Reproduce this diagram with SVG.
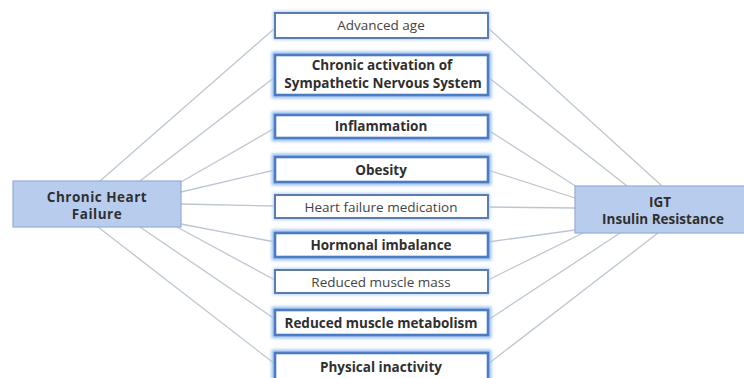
<svg xmlns="http://www.w3.org/2000/svg" width="744" height="378" viewBox="0 0 744 378">
<defs>
<filter id="glow" x="-10%" y="-40%" width="120%" height="180%">
<feGaussianBlur stdDeviation="1.6"/>
</filter>
<style>
.conn line{stroke:#bcc6d2;stroke-width:1.3;fill:none}
.side{fill:#b8cdee;stroke:#93add8;stroke-width:1.2}
.halo{fill:none;stroke:#9fc3f0;stroke-width:7;filter:url(#glow)}
.halo2{fill:none;stroke:#b9d1f0;stroke-width:4;filter:url(#glow)}
.bbox{fill:#ffffff;stroke:#4b7bc2;stroke-width:2.6}
.nbox{fill:#ffffff;stroke:#5a7db0;stroke-width:2}
text{font-family:"Open Sans","Liberation Sans",sans-serif;fill:#2f2f2f;text-anchor:middle}
.b{font-weight:bold;font-size:13.5px}
.n{font-size:13.5px;fill:#444}
.s{font-weight:bold;font-size:13.5px}
.sl{font-weight:bold;font-size:13.5px;letter-spacing:0.5px}
</style>
</defs>
<rect width="744" height="378" fill="#ffffff"/>
<g class="conn">
<line x1="100" y1="181" x2="275" y2="28"/>
<line x1="140" y1="181" x2="275" y2="77"/>
<line x1="181" y1="182" x2="275" y2="128"/>
<line x1="181" y1="192" x2="275" y2="170"/>
<line x1="181" y1="204" x2="275" y2="206"/>
<line x1="181" y1="224" x2="275" y2="242"/>
<line x1="177" y1="227" x2="275" y2="280"/>
<line x1="140" y1="227" x2="275" y2="319"/>
<line x1="98" y1="227" x2="275" y2="364"/>
<line x1="488" y1="28" x2="662" y2="186"/>
<line x1="488" y1="77" x2="627" y2="186"/>
<line x1="488" y1="130" x2="577" y2="187"/>
<line x1="488" y1="170" x2="575" y2="198"/>
<line x1="488" y1="207" x2="575" y2="208"/>
<line x1="488" y1="242" x2="575" y2="230"/>
<line x1="488" y1="280" x2="583" y2="233"/>
<line x1="488" y1="320" x2="620" y2="233"/>
<line x1="488" y1="364" x2="658" y2="233"/>
</g>
<g id="chf">
<rect class="side" x="13" y="181" width="168" height="46"/>
<text class="sl" x="97" y="202">Chronic Heart</text>
<text class="sl" x="97" y="219">Failure</text>
</g>
<g id="igt">
<rect class="side" x="575" y="186" width="175" height="47"/>
<text class="s" x="660" y="207">IGT</text>
<text class="s" x="663" y="224">Insulin Resistance</text>
</g>
<g id="age">
<rect class="halo2" x="275" y="13" width="213" height="25"/>
<rect class="nbox" x="275" y="13" width="213" height="25"/>
<text class="n" x="381" y="30">Advanced age</text>
</g>
<g id="sns">
<rect class="halo" x="275" y="55" width="213" height="40"/>
<rect class="bbox" x="275" y="55" width="213" height="40"/>
<text class="b" x="382" y="70">Chronic activation of</text>
<text class="b" x="383" y="88">Sympathetic Nervous System</text>
</g>
<g id="inflammation">
<rect class="halo" x="275" y="115" width="213" height="23"/>
<rect class="bbox" x="275" y="115" width="213" height="23"/>
<text class="b" x="381" y="131">Inflammation</text>
</g>
<g id="obesity">
<rect class="halo" x="275" y="157" width="213" height="25"/>
<rect class="bbox" x="275" y="157" width="213" height="25"/>
<text class="b" x="381" y="175">Obesity</text>
</g>
<g id="medication">
<rect class="halo2" x="275" y="195" width="213" height="23"/>
<rect class="nbox" x="275" y="195" width="213" height="23"/>
<text class="n" x="381" y="212">Heart failure medication</text>
</g>
<g id="hormonal">
<rect class="halo" x="275" y="233" width="213" height="24"/>
<rect class="bbox" x="275" y="233" width="213" height="24"/>
<text class="b" x="381" y="250">Hormonal imbalance</text>
</g>
<g id="musclemass">
<rect class="halo2" x="275" y="270" width="213" height="23"/>
<rect class="nbox" x="275" y="270" width="213" height="23"/>
<text class="n" x="381" y="287">Reduced muscle mass</text>
</g>
<g id="metabolism">
<rect class="halo" x="275" y="310" width="213" height="25"/>
<rect class="bbox" x="275" y="310" width="213" height="25"/>
<text class="b" x="381" y="328">Reduced muscle metabolism</text>
</g>
<g id="inactivity">
<rect class="halo" x="275" y="353" width="213" height="27"/>
<rect class="bbox" x="275" y="353" width="213" height="27"/>
<text class="b" x="381" y="372">Physical inactivity</text>
</g>
</svg>
